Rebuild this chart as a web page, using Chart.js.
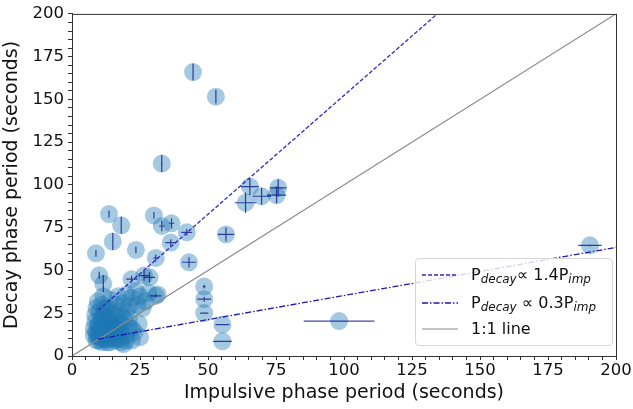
<!DOCTYPE html>
<html>
<head>
<meta charset="utf-8">
<script src="https://cdn.jsdelivr.net/npm/chart.js@4.4.1/dist/chart.umd.min.js"></script>
<style>
  body { margin: 0; background: #fff; }
  #wrap { position: relative; width: 633px; height: 409px; }
  #legendBox {
    position: absolute; left: 415px; top: 258px; width: 196px; height: 86px;
    border: 1px solid #d6d6d6; border-radius: 4px; background: rgba(255,255,255,0.8);
    font-family: 'DejaVu Sans', sans-serif; font-size: 16px; color: #111;
  }
  .row { position: absolute; left: 0; height: 22px; line-height: 22px; white-space: nowrap; }
  .row svg { position: absolute; left: 6px; top: 6px; }
  .row span { position: absolute; left: 55px; top: 0; }
  sub { font-size: 12px; vertical-align: -3px; line-height: 0; }
</style>
</head>
<body>
<div id="wrap">
  <canvas id="decayChart" width="633" height="409"></canvas>
  <div id="legendBox">
    <div class="row" style="top:5px">
      <svg width="36" height="10"><line x1="0" y1="5" x2="36" y2="5" stroke="#2b2bc4" stroke-width="1.3" stroke-dasharray="4,2"/></svg>
      <span>P<sub><i>decay</i></sub>∝ 1.4P<sub><i>imp</i></sub></span>
    </div>
    <div class="row" style="top:33px">
      <svg width="36" height="10"><line x1="0" y1="5" x2="36" y2="5" stroke="#1c1caa" stroke-width="1.3" stroke-dasharray="6,2,1.5,2"/></svg>
      <span>P<sub><i>decay</i></sub> ∝ 0.3P<sub><i>imp</i></sub></span>
    </div>
    <div class="row" style="top:59px">
      <svg width="36" height="10"><line x1="0" y1="5" x2="36" y2="5" stroke="#8a8a8a" stroke-width="1.2"/></svg>
      <span>1:1 line</span>
    </div>
  </div>
</div>
<script>
// events: impulsive period, decay period and their errors (seconds)
const impulsive = [44.5, 52.9, 33, 65.4, 69.7, 75.8, 75.2, 63.8, 56.6, 42.2, 36.3, 48.6, 48.6, 48.6, 55.3, 55.3, 98.2, 190.4,
  13.6, 18.1, 30.1, 33, 36.6, 15, 8.8, 23.5, 30.8, 43, 10, 11.5, 21.9, 26.5, 28.5, 30.8,
  8, 8, 8.5, 9, 9, 9.5, 10, 10, 10.5, 11, 11, 11.5, 12, 12, 12.5, 13, 13, 13.5, 14, 14.5, 15, 15.5, 16, 16, 17, 17.5, 18, 18,
  10, 11, 12, 13, 14, 15, 16, 12, 14, 17,
  9, 10, 11, 11, 12, 12, 13, 13, 14, 15, 16, 16, 17, 18, 19, 20, 10, 14, 18, 21,
  8.5, 9, 9.5, 10, 11, 11.5, 12, 13, 14, 15, 16, 17, 18,
  19, 20, 21, 22, 23.5, 24, 25, 27, 28, 31.5, 26,
  19, 20, 21, 22, 23, 24.5, 25, 20, 22];
const decay = [166, 151.6, 112.5, 99, 93.4, 98.3, 94.1, 89.6, 71.1, 72.3, 66.3, 40.6, 33.2, 25.1, 18.3, 8.6, 20.4, 64.7,
  83, 76.4, 82.2, 76, 77.6, 66.9, 60, 62, 57.3, 54.8, 47.2, 42.2, 44.9, 47, 46, 35.2,
  12, 16, 20, 9, 14, 18, 11, 15, 21, 8, 13, 17, 10, 19, 14, 8, 12, 16, 20, 10, 14, 18, 9, 12, 16, 20, 10, 14,
  13, 16, 12, 18, 15, 11, 17, 22, 12, 13,
  12, 18, 10, 24, 15, 28, 20, 10, 26, 20, 15, 24, 10, 18, 22, 26, 9, 8, 8, 22,
  24, 28, 32, 26, 30, 35, 24, 28, 33, 25, 30, 35, 26,
  31, 36, 29, 34, 38, 30, 35, 32, 37, 36, 28,
  7, 12, 17, 9, 14, 19, 11, 9, 16];
const impErr = [0, 0, 0.3, 3.3, 3.5, 3, 3.5, 4, 3, 2, 2, 0.5, 2.5, 1.5, 2.5, 3.4, 13, 4.3,
  0, 0, 0, 1, 1, 0, 0, 0, 1, 2.5, 0, 0, 2, 2, 2, 2];
const decayErr = [5, 4, 5, 5, 5, 5, 5, 6, 4, 2, 2, 1, 1.5, 0, 0, 0, 0, 0.5,
  2, 5, 2, 3, 3, 5, 2, 2, 2, 3, 2, 5, 2, 3, 3, 1];

// fitted relations, end points
const fastFitX = [9.6, 135];
const fastFitY = [26.7, 201];
const slowFitX = [9.6, 200];
const slowFitY = [9.9, 63.5];
const unityX = [0, 200];
const unityY = [0, 200];

const tickFont = { family: 'DejaVu Sans', size: 16.5 };
const titleFont = { family: 'DejaVu Sans', size: 19 };

function toPoints(xs, ys) {
  return xs.map((v, i) => ({ x: v, y: ys[i] }));
}

const errorBars = {
  id: 'errorBars',
  afterDatasetDraw(chart, args) {
    if (args.index !== 3) return;
    const { ctx, scales: { x, y } } = chart;
    ctx.save();
    ctx.strokeStyle = 'rgba(15,25,140,0.8)';
    ctx.lineWidth = 1.2;
    ctx.beginPath();
    impulsive.forEach((v, i) => {
      const px = x.getPixelForValue(v);
      const py = y.getPixelForValue(decay[i]);
      const xe = impErr[i] || 0, ye = decayErr[i] || 0;
      if (xe) {
        ctx.moveTo(x.getPixelForValue(v - xe), py);
        ctx.lineTo(x.getPixelForValue(v + xe), py);
      }
      if (ye) {
        ctx.moveTo(px, y.getPixelForValue(decay[i] - ye));
        ctx.lineTo(px, y.getPixelForValue(decay[i] + ye));
      }
    });
    ctx.stroke();
    ctx.restore();
  }
};

const frame = {
  id: 'frame',
  afterDraw(chart) {
    const { ctx, chartArea: a } = chart;
    ctx.save();
    ctx.strokeStyle = '#333';
    ctx.lineWidth = 1;
    ctx.strokeRect(a.left + 0.5, a.top + 0.5, a.right - a.left, a.bottom - a.top);
    ctx.restore();
  }
};

function axis(title, side) {
  return {
    type: 'linear',
    min: 0,
    max: 200,
    ticks: {
      stepSize: 5,
      autoSkip: false,
      maxRotation: 0,
      padding: side === 'x' ? 1 : 4,
      color: '#111',
      font: tickFont,
      callback: v => (v % 25 === 0 ? v : '')
    },
    grid: { drawOnChartArea: false, tickLength: 4, color: '#333' },
    border: { color: '#333' },
    title: { display: true, text: title, color: '#111', font: titleFont, padding: { top: 1, bottom: side === 'x' ? 5 : 1 } },
    afterFit: side === 'x' ? s => { s.height = 53; } : s => { s.width = 72; }
  };
}

new Chart(document.getElementById('decayChart'), {
  type: 'scatter',
  data: {
    datasets: [
      {
        type: 'line', data: toPoints(fastFitX, fastFitY),
        borderColor: '#2b2bc4', borderWidth: 1.3, borderDash: [4, 2], pointRadius: 0, fill: false
      },
      {
        type: 'line', data: toPoints(slowFitX, slowFitY),
        borderColor: '#1c1caa', borderWidth: 1.3, borderDash: [6, 2, 1.5, 2], pointRadius: 0, fill: false
      },
      {
        type: 'line', data: toPoints(unityX, unityY),
        borderColor: '#8a8a8a', borderWidth: 1.2, pointRadius: 0, fill: false
      },
      {
        data: toPoints(impulsive, decay),
        pointRadius: 9,
        backgroundColor: 'rgba(31,119,180,0.4)',
        borderWidth: 0
      }
    ]
  },
  options: {
    responsive: false,
    animation: false,
    events: [],
    layout: { padding: { top: 10, right: 17, left: 0, bottom: 0 } },
    plugins: { legend: { display: false }, tooltip: { enabled: false } },
    scales: {
      x: axis('Impulsive phase period (seconds)', 'x'),
      y: axis('Decay phase period (seconds)', 'y')
    }
  },
  plugins: [errorBars, frame]
});
</script>
</body>
</html>
